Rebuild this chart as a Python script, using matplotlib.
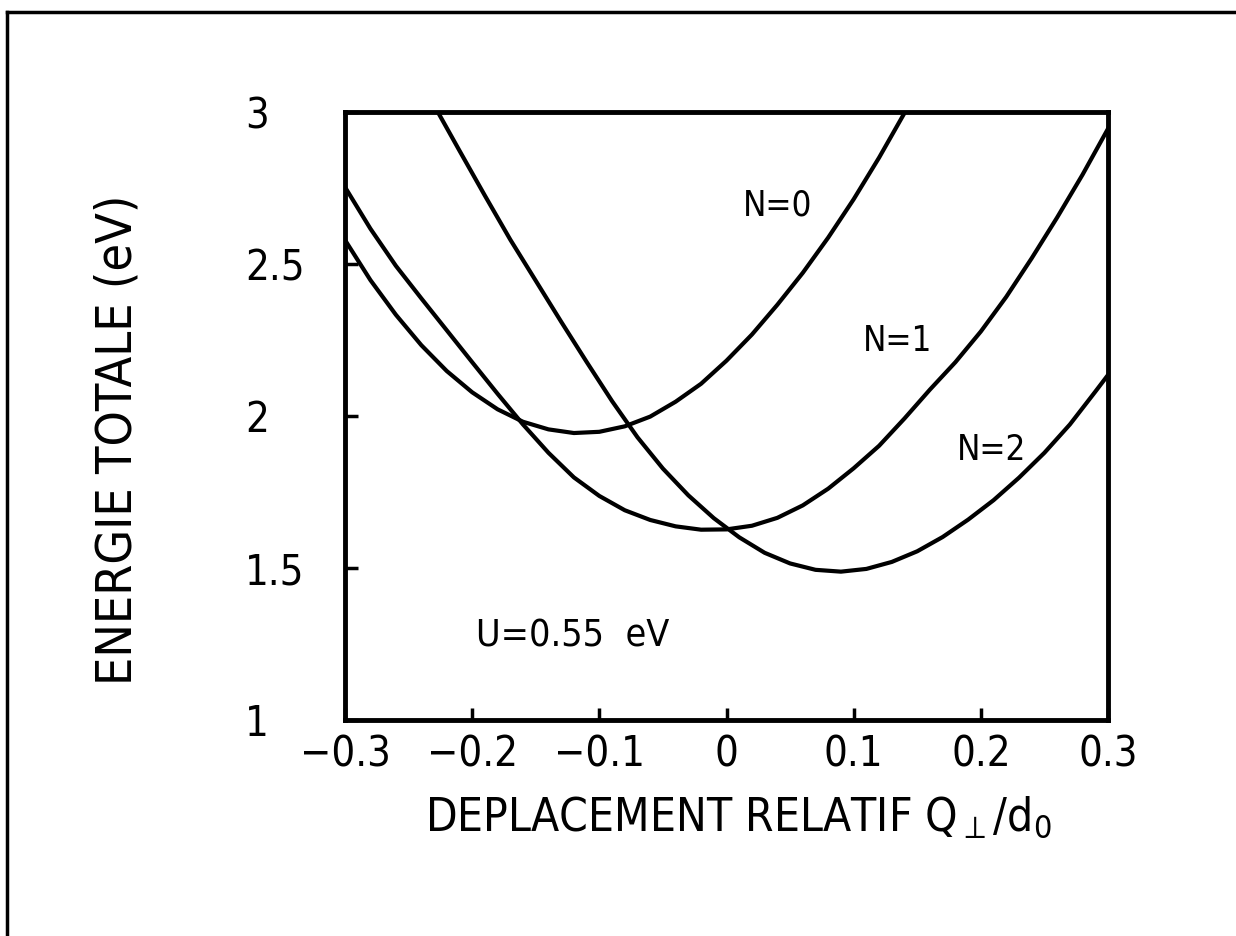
import matplotlib
matplotlib.use("Agg")
import matplotlib.pyplot as plt
from matplotlib import font_manager as fm
from matplotlib.lines import Line2D

# ---------------- data ----------------
n0_x = [-0.300, -0.280, -0.260, -0.240, -0.220, -0.200, -0.180, -0.160, -0.140,
        -0.120, -0.100, -0.080, -0.060, -0.040, -0.020, 0.000, 0.020, 0.040,
        0.060, 0.080, 0.100, 0.120, 0.140]
n0_y = [2.579, 2.447, 2.333, 2.233, 2.148, 2.078, 2.022, 1.981, 1.956,
        1.944, 1.948, 1.966, 1.998, 2.047, 2.106, 2.182, 2.268, 2.366,
        2.471, 2.587, 2.713, 2.850, 2.997]

n1_x = [-0.300, -0.280, -0.260, -0.240, -0.220, -0.200, -0.180, -0.160, -0.140,
        -0.120, -0.100, -0.080, -0.060, -0.040, -0.020, 0.000, 0.020, 0.040,
        0.060, 0.080, 0.100, 0.120, 0.140, 0.160, 0.180, 0.200, 0.220, 0.240,
        0.260, 0.280, 0.300]
n1_y = [2.753, 2.616, 2.494, 2.387, 2.282, 2.177, 2.073, 1.972, 1.879,
        1.798, 1.737, 1.690, 1.658, 1.637, 1.626, 1.627, 1.639, 1.665,
        1.706, 1.761, 1.828, 1.902, 1.992, 2.087, 2.177, 2.278, 2.392, 2.519,
        2.653, 2.794, 2.945]

n2_x = [-0.227, -0.210, -0.190, -0.170, -0.150, -0.130, -0.110, -0.090, -0.070,
        -0.050, -0.030, -0.010, 0.010, 0.030, 0.050, 0.070, 0.090, 0.110,
        0.130, 0.150, 0.170, 0.190, 0.210, 0.230, 0.250, 0.270, 0.290, 0.300]
n2_y = [3.000, 2.873, 2.725, 2.580, 2.445, 2.310, 2.178, 2.049, 1.930,
        1.827, 1.739, 1.664, 1.601, 1.550, 1.515, 1.494, 1.488, 1.497,
        1.520, 1.555, 1.602, 1.659, 1.723, 1.797, 1.879, 1.972, 2.080, 2.135]

curve_labels = ["N=0", "N=1", "N=2"]
x_ticks = [-0.3, -0.2, -0.1, 0.0, 0.1, 0.2, 0.3]
x_ticklabels = ["\u22120.3", "\u22120.2", "\u22120.1", "0", "0.1", "0.2", "0.3"]
y_ticks = [1.0, 1.5, 2.0, 2.5, 3.0]
y_ticklabels = ["1", "1.5", "2", "2.5", "3"]
x_label = r"DEPLACEMENT RELATIF Q$_{\perp}$/d$_{0}$"
y_label = "ENERGIE TOTALE (eV)"
u_text = "U=0.55  eV"

# ---------------- fonts ----------------
names = {f.name for f in fm.fontManager.ttflist}
if "Liberation Sans Narrow" in names:
    FONT, STRETCH = "Liberation Sans Narrow", "normal"
else:
    FONT, STRETCH = "DejaVu Sans", "condensed"
plt.rcParams["font.family"] = [FONT, "DejaVu Sans"]
plt.rcParams["font.stretch"] = STRETCH
plt.rcParams["mathtext.fontset"] = "custom"
plt.rcParams["mathtext.rm"] = FONT
plt.rcParams["mathtext.it"] = FONT
plt.rcParams["mathtext.bf"] = FONT

W, H = 1236, 936
fig = plt.figure(figsize=(W / 100, H / 100), dpi=100)
fig.patch.set_facecolor("white")

L, R, T, B = 345, 1108, 112, 720
ax = fig.add_axes([L / W, 1 - B / H, (R - L) / W, (B - T) / H])

for xs, ys in [(n0_x, n0_y), (n1_x, n1_y), (n2_x, n2_y)]:
    ax.plot(xs, ys, color="black", lw=3.0, solid_joinstyle="round")

ax.set_xlim(-0.3, 0.3)
ax.set_ylim(1, 3)
ax.set_xticks(x_ticks)
ax.set_xticklabels(x_ticklabels)
ax.set_yticks(y_ticks)
ax.set_yticklabels(y_ticklabels)
for s in ax.spines.values():
    s.set_linewidth(3.5)
ax.tick_params(axis="both", direction="in", length=9, width=2.5,
               labelsize=30, top=False, right=False)
ax.tick_params(axis="x", pad=10)
ax.tick_params(axis="y", pad=72)
for lab in ax.get_yticklabels():
    lab.set_horizontalalignment("left")

# curve annotations
ax.text(0.0405, 2.691, curve_labels[0], fontsize=25, ha="center", va="center")
ax.text(0.1348, 2.247, curve_labels[1], fontsize=25, ha="center", va="center")
ax.text(0.2088, 1.888, curve_labels[2], fontsize=25, ha="center", va="center")
ax.text(-0.1207, 1.276, u_text, fontsize=27, ha="center", va="center")

# axis labels
fig.text(738 / W, 1 - 830 / H, x_label, fontsize=33, ha="center", va="baseline")
fig.text(117 / W, 1 - 440 / H, y_label, fontsize=36, ha="center", va="center",
         rotation=90)

# outer frame (left, top)
fig.add_artist(Line2D([7 / W, 7 / W], [0, 1 - 12 / H], color="black", lw=2.5))
fig.add_artist(Line2D([7 / W, 1], [1 - 12 / H, 1 - 12 / H], color="black", lw=2.5))

fig.savefig("out.png", dpi=100, facecolor="white")
